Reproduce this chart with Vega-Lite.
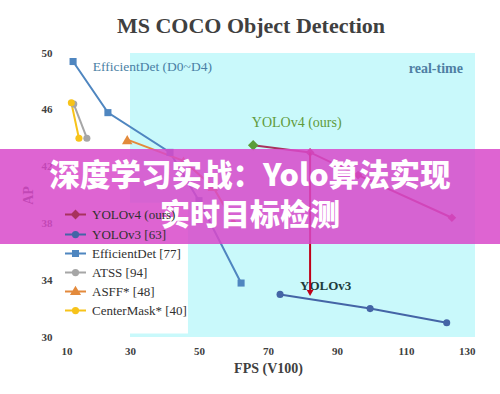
{
  "$schema": "https://vega.github.io/schema/vega-lite/v6.json",
  "width": 414,
  "height": 284,
  "autosize": "none",
  "padding": {"left": 61, "top": 53, "right": 25, "bottom": 57},
  "background": "white",
  "title": {"text": "MS COCO Object Detection", "font": "Liberation Serif", "fontSize": 22, "fontWeight": "bold", "color": "#404040", "anchor": "middle", "frame": "group", "dx": -17, "baseline": "alphabetic", "offset": -8},
  "config": {
    "view": {"stroke": null, "fill": {"gradient": "linear", "x1": 0, "y1": 0, "x2": 1, "y2": 0, "stops": [{"offset": 0, "color": "#ffffff"}, {"offset": 0.1667, "color": "#ffffff"}, {"offset": 0.1667, "color": "#c9f9fb"}, {"offset": 1, "color": "#c9f9fb"}]}},
    "axis": {"labelFont": "Liberation Serif", "labelFontSize": 11, "labelFontWeight": "bold", "labelColor": "#404040", "titleFont": "Liberation Serif", "titleFontSize": 14, "titleFontWeight": "bold", "titleColor": "#404040", "ticks": false, "domain": false, "gridColor": "#bfd4d6", "gridWidth": 1, "gridOpacity": 1}
  },
  "datasets": {
    "series": [
      {"series": "YOLOv4 (ours)", "fps": 65.7, "ap": 43.5},
      {"series": "YOLOv4 (ours)", "fps": 82.2, "ap": 43.0},
      {"series": "YOLOv4 (ours)", "fps": 96.1, "ap": 41.4},
      {"series": "YOLOv4 (ours)", "fps": 123.3, "ap": 38.4},
      {"series": "YOLOv3 [63]", "fps": 73.5, "ap": 33.0},
      {"series": "YOLOv3 [63]", "fps": 99.6, "ap": 32.0},
      {"series": "YOLOv3 [63]", "fps": 121.8, "ap": 31.0},
      {"series": "EfficientDet [77]", "fps": 13.5, "ap": 49.4},
      {"series": "EfficientDet [77]", "fps": 23.6, "ap": 45.8},
      {"series": "EfficientDet [77]", "fps": 41.6, "ap": 43.0},
      {"series": "EfficientDet [77]", "fps": 50.0, "ap": 39.6},
      {"series": "EfficientDet [77]", "fps": 62.2, "ap": 33.8},
      {"series": "ATSS [94]", "fps": 13.7, "ap": 46.4},
      {"series": "ATSS [94]", "fps": 17.5, "ap": 44.0},
      {"series": "ASFF* [48]", "fps": 29.2, "ap": 43.9},
      {"series": "ASFF* [48]", "fps": 45.5, "ap": 42.4},
      {"series": "ASFF* [48]", "fps": 54.0, "ap": 40.6},
      {"series": "ASFF* [48]", "fps": 60.0, "ap": 38.1},
      {"series": "CenterMask* [40]", "fps": 13.0, "ap": 46.5},
      {"series": "CenterMask* [40]", "fps": 15.2, "ap": 44.0}
    ],
    "highlight": [{"fps": 65.7, "ap": 43.5}],
    "arrow": [{"fps": 82.2, "from": 43.0, "to": 33.3, "head": 33.1}],
    "blank": [{}]
  },
  "layer": [
    {
      "data": {"name": "blank"},
      "mark": {"type": "rect", "fill": "#ffffff", "clip": false},
      "encoding": {
        "x": {"datum": 10.6, "type": "quantitative", "scale": {"domain": [10, 130], "nice": false, "zero": false}, "axis": {"values": [10, 30, 50, 70, 90, 110, 130], "title": "FPS (V100)", "labelPadding": 8, "titlePadding": 5}},
        "x2": {"datum": 46.8},
        "y": {"datum": 39.45, "type": "quantitative", "scale": {"domain": [30, 50], "nice": false, "zero": false}, "axis": {"values": [30, 32, 34, 36, 38, 40, 42, 44, 46, 48, 50], "title": "AP", "labelPadding": 9, "titlePadding": 6}},
        "y2": {"datum": 30.25}
      }
    },
    {
      "data": {"name": "series"},
      "transform": [{"filter": "false"}],
      "mark": {"type": "point", "filled": false, "opacity": 1, "strokeWidth": 2},
      "encoding": {
        "x": {"field": "fps", "type": "quantitative"},
        "y": {"field": "ap", "type": "quantitative"},
        "color": {"field": "series", "type": "nominal", "sort": null,
          "scale": {"domain": ["YOLOv4 (ours)", "YOLOv3 [63]", "EfficientDet [77]", "ATSS [94]", "ASFF* [48]", "CenterMask* [40]"], "range": ["#a8325e", "#4465a6", "#4f86c0", "#a6a6a6", "#e38a3c", "#f7c31a"]},
          "legend": {
            "orient": "none", "legendX": 3, "legendY": 150, "title": null, "padding": 0, "rowPadding": 0,
            "symbolSize": 441, "symbolStrokeWidth": 2, "labelOffset": 5, "labelFont": "Liberation Serif", "labelFontSize": 13, "labelColor": "#303030", "labelLimit": 200,
            "encode": {"labels": {"opacity": {"value": {"expr": "indexof(['YOLOv4 (ours)','YOLOv3 [63]'], datum.value) >= 0 ? 0.3 : 1"}}}}
          }
        },
        "shape": {"field": "series", "type": "nominal", "sort": null,
          "scale": {"domain": ["YOLOv4 (ours)", "YOLOv3 [63]", "EfficientDet [77]", "ATSS [94]", "ASFF* [48]", "CenterMask* [40]"],
            "range": ["M-1,0H1M0,-0.34L0.34,0L0,0.34L-0.34,0Z", "M-1,0H1M0.25,0A0.25,0.25 0 1,1 -0.25,0A0.25,0.25 0 1,1 0.25,0Z", "M-1,0H1M-0.24,-0.24H0.24V0.24H-0.24Z", "M-1,0H1M0.25,0A0.25,0.25 0 1,1 -0.25,0A0.25,0.25 0 1,1 0.25,0Z", "M-1,0H1M0,-0.36L0.36,0.24H-0.36Z", "M-1,0H1M0.25,0A0.25,0.25 0 1,1 -0.25,0A0.25,0.25 0 1,1 0.25,0Z"]},
          "legend": {"orient": "none", "legendX": 3, "legendY": 150, "title": null, "padding": 0, "rowPadding": 0, "symbolSize": 441, "symbolStrokeWidth": 2, "labelOffset": 5, "labelFont": "Liberation Serif", "labelFontSize": 13, "labelColor": "#303030", "labelLimit": 200}
        }
      }
    },
    {
      "data": {"name": "series"},
      "mark": {"type": "line", "strokeWidth": 2},
      "encoding": {
        "x": {"field": "fps", "type": "quantitative"},
        "y": {"field": "ap", "type": "quantitative"},
        "color": {"field": "series", "type": "nominal", "sort": null, "legend": null},
        "detail": {"field": "series"}
      }
    },
    {
      "data": {"name": "series"},
      "transform": [{"filter": "datum.series === 'YOLOv4 (ours)'"}],
      "mark": {"type": "point", "filled": true, "opacity": 1, "shape": "diamond", "size": 75},
      "encoding": {"x": {"field": "fps", "type": "quantitative"}, "y": {"field": "ap", "type": "quantitative"}, "color": {"field": "series", "type": "nominal", "sort": null, "legend": null}}
    },
    {
      "data": {"name": "series"},
      "transform": [{"filter": "datum.series === 'EfficientDet [77]'"}],
      "mark": {"type": "point", "filled": true, "opacity": 1, "shape": "square", "size": 50},
      "encoding": {"x": {"field": "fps", "type": "quantitative"}, "y": {"field": "ap", "type": "quantitative"}, "color": {"field": "series", "type": "nominal", "sort": null, "legend": null}}
    },
    {
      "data": {"name": "series"},
      "transform": [{"filter": "datum.series === 'ASFF* [48]'"}],
      "mark": {"type": "point", "filled": true, "opacity": 1, "shape": "triangle-up", "size": 110},
      "encoding": {"x": {"field": "fps", "type": "quantitative"}, "y": {"field": "ap", "type": "quantitative"}, "color": {"field": "series", "type": "nominal", "sort": null, "legend": null}}
    },
    {
      "data": {"name": "series"},
      "transform": [{"filter": "datum.series === 'YOLOv3 [63]' || datum.series === 'ATSS [94]' || datum.series === 'CenterMask* [40]'"}],
      "mark": {"type": "point", "filled": true, "opacity": 1, "shape": "circle", "size": 50},
      "encoding": {"x": {"field": "fps", "type": "quantitative"}, "y": {"field": "ap", "type": "quantitative"}, "color": {"field": "series", "type": "nominal", "sort": null, "legend": null}}
    },
    {
      "data": {"name": "highlight"},
      "mark": {"type": "point", "filled": true, "shape": "diamond", "size": 110, "color": "#5a9e3a", "opacity": 1},
      "encoding": {"x": {"field": "fps", "type": "quantitative"}, "y": {"field": "ap", "type": "quantitative"}}
    },
    {
      "data": {"name": "blank"},
      "mark": {"type": "text", "align": "left", "baseline": "middle", "font": "Liberation Serif", "fontSize": 13.5, "color": "#4a7fa5", "text": "EfficientDet (D0~D4)"},
      "encoding": {"x": {"datum": 19.2, "type": "quantitative"}, "y": {"datum": 49.0, "type": "quantitative"}}
    },
    {
      "data": {"name": "blank"},
      "mark": {"type": "text", "align": "left", "baseline": "middle", "font": "Liberation Serif", "fontSize": 14, "color": "#5f9a3a", "text": "YOLOv4 (ours)"},
      "encoding": {"x": {"datum": 65.3, "type": "quantitative"}, "y": {"datum": 45.1, "type": "quantitative"}}
    },
    {
      "data": {"name": "blank"},
      "mark": {"type": "text", "align": "right", "baseline": "middle", "font": "Liberation Serif", "fontSize": 14, "fontWeight": "bold", "color": "#4f7fa3", "text": "real-time"},
      "encoding": {"x": {"datum": 126.5, "type": "quantitative"}, "y": {"datum": 48.85, "type": "quantitative"}}
    },
    {
      "data": {"name": "blank"},
      "mark": {"type": "text", "align": "left", "baseline": "middle", "font": "Liberation Serif", "fontSize": 13, "fontWeight": "bold", "color": "#203c3c", "text": "YOLOv3"},
      "encoding": {"x": {"datum": 79.3, "type": "quantitative"}, "y": {"datum": 33.6, "type": "quantitative"}}
    },
    {
      "data": {"name": "arrow"},
      "mark": {"type": "rule", "color": "#c00018", "strokeWidth": 2},
      "encoding": {"x": {"field": "fps", "type": "quantitative"}, "y": {"field": "from", "type": "quantitative"}, "y2": {"field": "to"}}
    },
    {
      "data": {"name": "arrow"},
      "mark": {"type": "point", "shape": "triangle-down", "filled": true, "size": 45, "color": "#c00018", "opacity": 1},
      "encoding": {"x": {"field": "fps", "type": "quantitative"}, "y": {"field": "head", "type": "quantitative"}}
    },
    {
      "data": {"name": "blank"},
      "mark": {"type": "rect", "fill": "#d849ca", "opacity": 0.85, "clip": false},
      "encoding": {"x": {"datum": -8, "type": "quantitative"}, "x2": {"datum": 138}, "y": {"datum": 43.24, "type": "quantitative"}, "y2": {"datum": 36.55}}
    },
    {
      "data": {"name": "blank"},
      "mark": {"type": "text", "align": "center", "baseline": "middle", "font": "Noto Sans CJK SC", "fontSize": 30.5, "fontWeight": 900, "color": "#ffffff", "text": "深度学习实战：Yolo算法实现"},
      "encoding": {"x": {"datum": 64.8, "type": "quantitative"}, "y": {"datum": 41.25, "type": "quantitative"}}
    },
    {
      "data": {"name": "blank"},
      "mark": {"type": "text", "align": "center", "baseline": "middle", "font": "Noto Sans CJK SC", "fontSize": 30, "fontWeight": 900, "color": "#ffffff", "text": "实时目标检测"},
      "encoding": {"x": {"datum": 64.8, "type": "quantitative"}, "y": {"datum": 38.55, "type": "quantitative"}}
    }
  ]
}
